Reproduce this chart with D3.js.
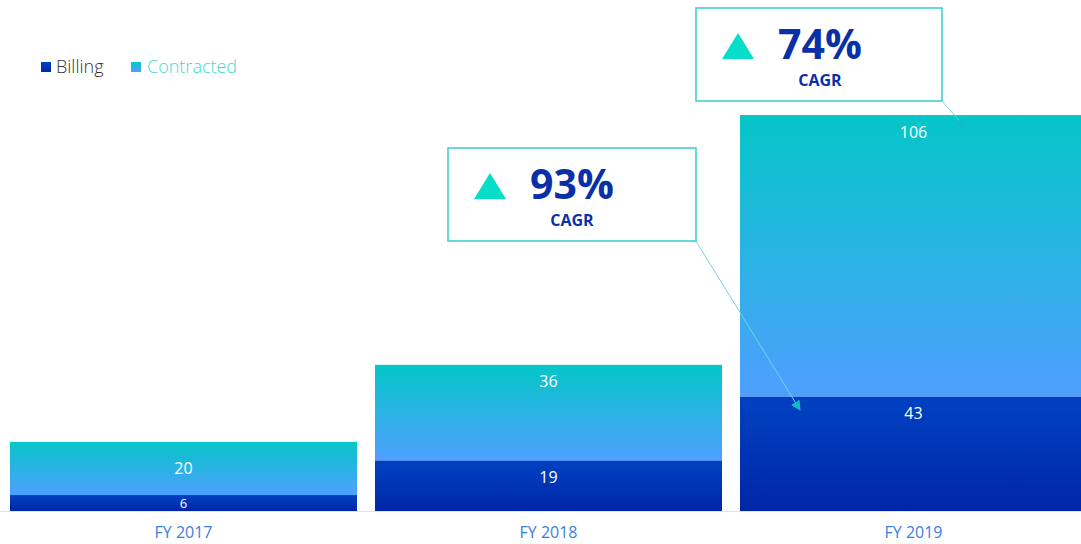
<!DOCTYPE html>
<html><head><meta charset="utf-8">
<script src="https://cdn.jsdelivr.net/npm/d3@7"></script>
<style>body{margin:0;background:#fff;}svg{display:block;font-family:"Open Sans",sans-serif;}</style>
</head><body>
<svg id="c" width="1081" height="544"></svg>
<script>
const categories = ["FY 2017", "FY 2018", "FY 2019"];
const billing = [6, 19, 43];
const contracted = [20, 36, 106];
const seriesNames = ["Billing", "Contracted"];
const cagrLabels = ["93%", "74%"];

const W = 1081, H = 544;
const svg = d3.select("#c");
const x = d3.scaleBand().domain(categories).range([0, 1097]).paddingInner(18 / 365).paddingOuter(10 / 365);
const y = d3.scaleLinear().domain([0, 192.3]).range([511, 0]);

const defs = svg.append("defs");
const gC = defs.append("linearGradient").attr("id", "gC").attr("x1", 0).attr("y1", 0).attr("x2", 0).attr("y2", 1);
gC.append("stop").attr("offset", "0%").attr("stop-color", "#05C6C8");
gC.append("stop").attr("offset", "100%").attr("stop-color", "#4F9FFF");
const gB = defs.append("linearGradient").attr("id", "gB").attr("x1", 0).attr("y1", 0).attr("x2", 0).attr("y2", 1);
gB.append("stop").attr("offset", "0%").attr("stop-color", "#0042C2");
gB.append("stop").attr("offset", "100%").attr("stop-color", "#0026A6");
const mk = defs.append("marker").attr("id", "arr").attr("viewBox", "0 0 10 10").attr("refX", 9).attr("refY", 5)
  .attr("markerWidth", 10).attr("markerHeight", 10).attr("markerUnits", "userSpaceOnUse").attr("orient", "auto");
mk.append("path").attr("d", "M0,0L10,5L0,10Z").attr("fill", "#12BCC8");

const data = categories.map((c, i) => ({cat: c, b: billing[i], c: contracted[i]}));

// baseline
svg.append("line").attr("x1", 0).attr("x2", W).attr("y1", y(0) + 0.5).attr("y2", y(0) + 0.5).attr("stroke", "#e2e2e2");

const g = svg.append("g");
data.forEach(d => {
  const x0 = x(d.cat), bw = x.bandwidth();
  const yB = y(d.b), yT = y(d.b + d.c);
  g.append("rect").attr("x", x0).attr("y", yT).attr("width", bw).attr("height", yB - yT).attr("fill", "url(#gC)");
  g.append("rect").attr("x", x0).attr("y", yB).attr("width", bw).attr("height", y(0) - yB).attr("fill", "url(#gB)");
  const small = (y(0) - yT) < 80;
  const labC = small ? (yT + yB) / 2 : yT + 17;
  const labB = small ? (yB + y(0)) / 2 : yB + 17;
  g.append("text").attr("x", x0 + bw / 2).attr("y", labC).attr("dy", "0.35em").attr("text-anchor", "middle")
    .attr("fill", "#fff").attr("font-size", 16).text(d.c);
  g.append("text").attr("x", x0 + bw / 2).attr("y", labB).attr("dy", "0.35em").attr("text-anchor", "middle")
    .attr("fill", "#fff").attr("font-size", small ? 13 : 16).text(d.b);
});

// x axis labels
const ax = svg.append("g").attr("transform", `translate(0,${y(0)})`)
  .call(d3.axisBottom(x).tickSize(0).tickPadding(16));
ax.select(".domain").remove();
ax.selectAll("text").attr("fill", "#3C7EDD").attr("font-size", 16).attr("font-family", "Open Sans");

// legend
const leg = svg.append("g");
leg.append("rect").attr("x", 41).attr("y", 62).attr("width", 10).attr("height", 10).attr("fill", "url(#gB)");
leg.append("text").attr("x", 56).attr("y", 67).attr("dy", "0.35em").attr("font-size", 18).attr("font-weight", 300).attr("fill", "#333").text(seriesNames[0]);
leg.append("rect").attr("x", 131).attr("y", 62).attr("width", 10).attr("height", 10).attr("fill", "url(#gC)");
leg.append("text").attr("x", 147).attr("y", 67).attr("dy", "0.35em").attr("font-size", 18).attr("font-weight", 300).attr("fill", "#3FD9D2").text(seriesNames[1]);

// callouts
const callouts = [
  {label: cagrLabels[0], box: [448, 148, 248, 93], target: [800, 410]},
  {label: cagrLabels[1], box: [696, 8, 246, 93], target: [965, 127]}
];
callouts.forEach(co => {
  const [bx, by, bw, bh] = co.box;
  svg.append("line").attr("x1", bx + bw).attr("y1", by + bh).attr("x2", co.target[0]).attr("y2", co.target[1])
    .attr("stroke", "#6FD6DA").attr("stroke-width", 1).attr("marker-end", "url(#arr)");
  svg.append("rect").attr("x", bx).attr("y", by).attr("width", bw).attr("height", bh)
    .attr("fill", "#fff").attr("stroke", "#44CFCF").attr("stroke-width", 1.6);
  const tx = bx + 26, ty = by + 25;
  svg.append("path").attr("d", `M${tx},${ty + 26}L${tx + 16},${ty}L${tx + 32},${ty + 26}Z`).attr("fill", "#06DEC8");
  svg.append("text").attr("x", bx + 124).attr("y", by + 51).attr("text-anchor", "middle")
    .attr("font-size", 41).attr("font-weight", 700).attr("fill", "#0A30A8").text(co.label);
  svg.append("text").attr("x", bx + 124).attr("y", by + 78).attr("text-anchor", "middle")
    .attr("font-size", 16).attr("font-weight", 700).attr("fill", "#0A30A8").text("CAGR");
});
</script>
</body></html>
